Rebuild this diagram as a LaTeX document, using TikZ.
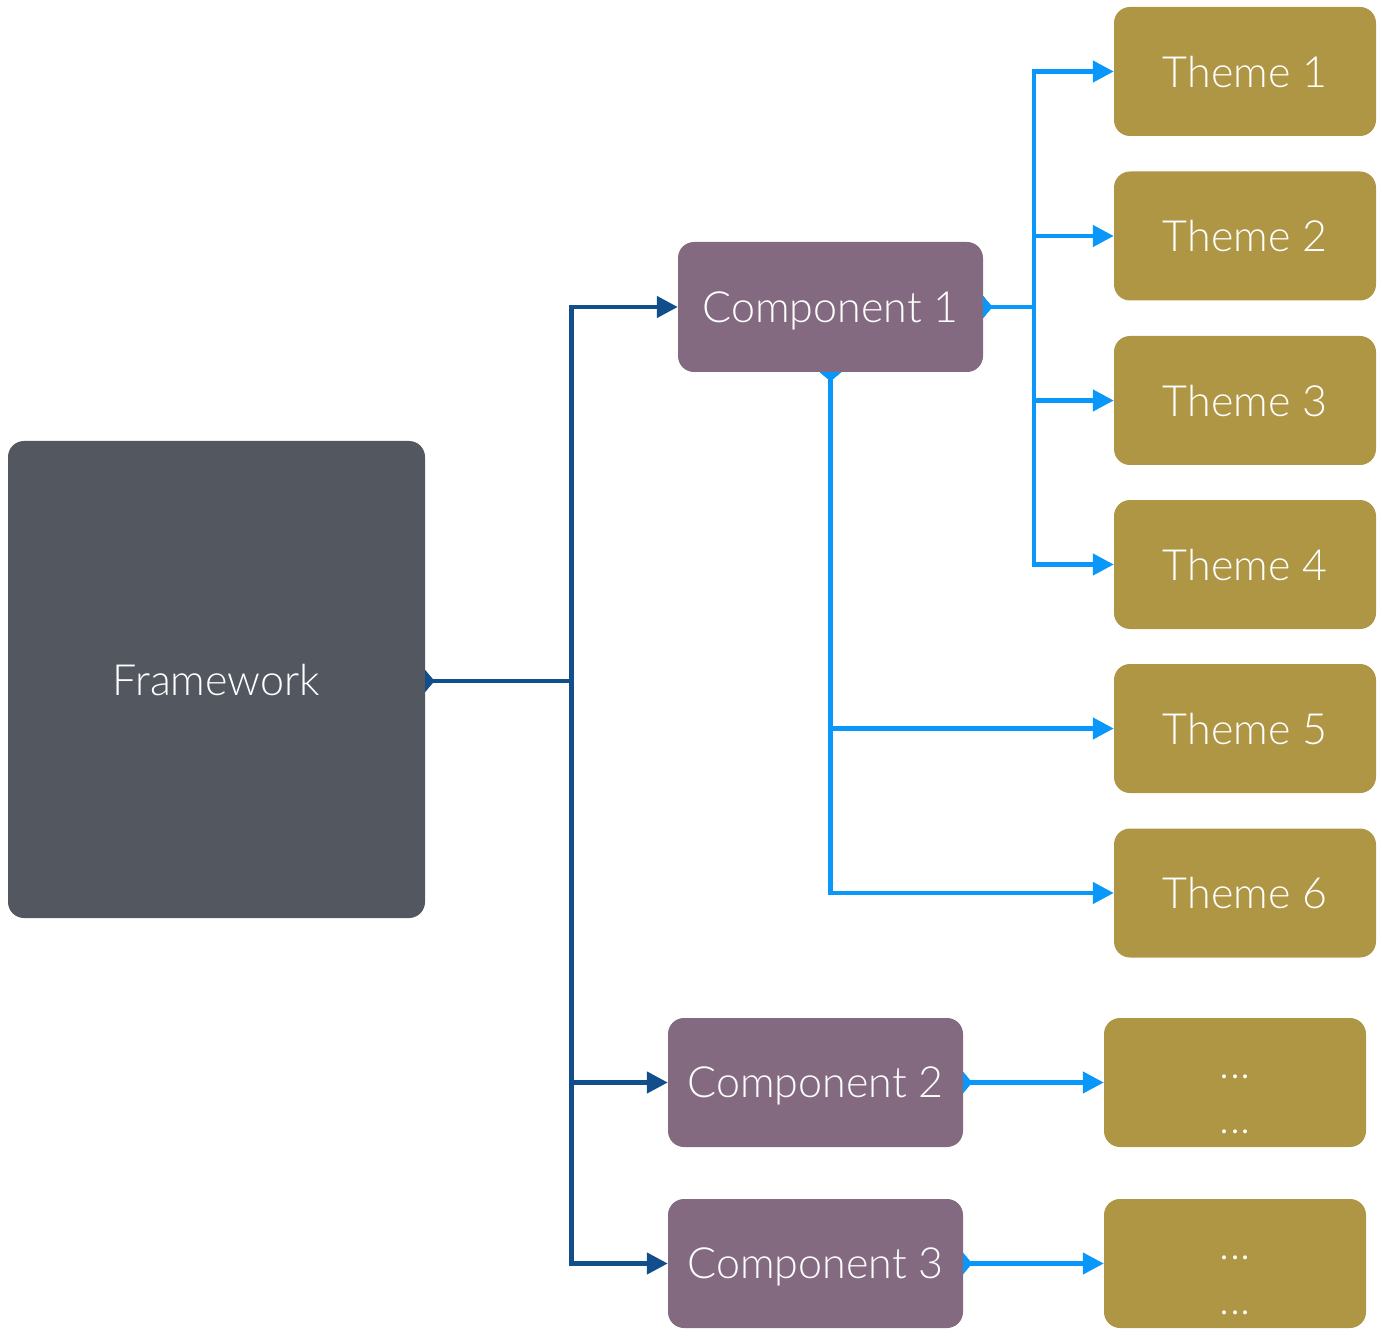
\documentclass[tikz,border=0pt]{standalone}
\usepackage{fontspec}
\setmainfont{Lato}[UprightFont={* Light}]
\usetikzlibrary{arrows.meta}
\definecolor{fwcol}{HTML}{53575F}
\definecolor{compcol}{HTML}{846A80}
\definecolor{themecol}{HTML}{AF9645}
\definecolor{darkline}{HTML}{124E8C}
\definecolor{lightline}{HTML}{0997FA}
\tikzset{
  box/.style={rounded corners=16pt, text=white, font=\fontsize{43}{55}\selectfont, inner sep=0pt, align=center, text depth=0pt},
  fwbox/.style={box, fill=fwcol, minimum width=417pt, minimum height=477pt},
  compbox/.style={box, fill=compcol, minimum width=295pt, minimum height=129pt},
  themebox/.style={box, fill=themecol, minimum width=262pt, minimum height=129pt},
  conn/.style={line width=4.5pt, {Triangle[reversed,length=9pt,width=21pt]}-{Triangle[length=21pt,width=21pt]}},
  darkconn/.style={conn, draw=darkline},
  lightconn/.style={conn, draw=lightline},
}
\newcommand{\twodots}{\smash{\raisebox{-19pt}{\begin{tabular}{@{}c@{}}...\\...\end{tabular}}}}
\begin{document}
\begin{tikzpicture}[x=1pt,y=-1pt]
\useasboundingbox (0,0) rectangle (1382,1337);
\node[fwbox] (fw) at (216.5,679.5) {Framework};
\node[compbox, minimum width=305pt, minimum height=130pt] (c1) at (830.5,307) {Component 1};
\node[compbox] (c2) at (815.5,1082.5) {Component 2};
\node[compbox] (c3) at (815.5,1263.5) {Component 3};
\node[themebox] (t1) at (1245,71.5) {Theme 1};
\node[themebox] (t2) at (1245,236) {Theme 2};
\node[themebox] (t3) at (1245,400.5) {Theme 3};
\node[themebox] (t4) at (1245,564.5) {Theme 4};
\node[themebox] (t5) at (1245,728.5) {Theme 5};
\node[themebox] (t6) at (1245,893) {Theme 6};
\node[themebox] (d2) at (1235,1082.5) {\twodots};
\node[themebox] (d3) at (1235,1263.5) {\twodots};
% coordinates for the buses
\coordinate (bus0) at (571.5,681);
\coordinate (bus1) at (1034,307);
% dark connectors
\draw[darkconn] (fw.east |- bus0) -- (bus0) |- (c1.west);
\draw[darkconn] (fw.east |- bus0) -- (bus0) |- (c2.west);
\draw[darkconn] (fw.east |- bus0) -- (bus0) |- (c3.west);
% light connectors from component 1
\draw[lightconn] (c1.east) -- (bus1) |- (t1.west);
\draw[lightconn] (c1.east) -- (bus1) |- (t2.west);
\draw[lightconn] (c1.east) -- (bus1) |- (t3.west);
\draw[lightconn] (c1.east) -- (bus1) |- (t4.west);
\draw[lightconn] (c1.south) |- (t5.west);
\draw[lightconn] (c1.south) |- (t6.west);
\draw[lightconn] (c2.east) -- (d2.west);
\draw[lightconn] (c3.east) -- (d3.west);
\end{tikzpicture}
\end{document}
